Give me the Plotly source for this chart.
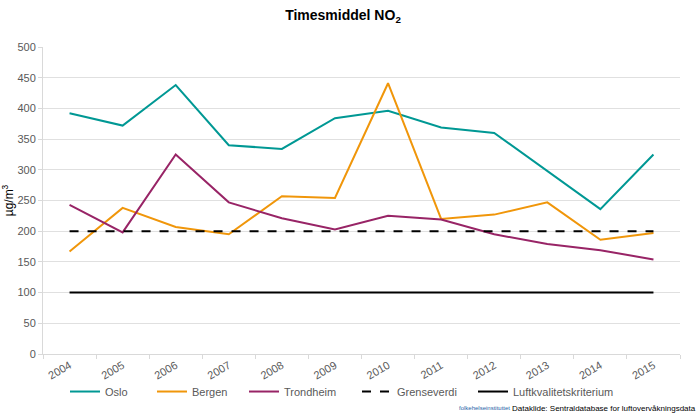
import plotly.graph_objects as go

years = ["2004", "2005", "2006", "2007", "2008", "2009", "2010", "2011", "2012", "2013", "2014", "2015"]
oslo = [392, 372, 438, 340, 334, 384, 396, 369, 360, 298, 236, 325]
bergen = [167, 238, 207, 195, 257, 254, 441, 220, 227, 247, 186, 197]
trondheim = [243, 198, 325, 247, 221, 203, 225, 219, 195, 179, 169, 154]
grenseverdi = [200] * 12
luftkvalitet = [100] * 12

series = [
    ("Oslo", oslo, dict(color="#009894", width=2), "legend"),
    ("Bergen", bergen, dict(color="#F0960A", width=2), "legend2"),
    ("Trondheim", trondheim, dict(color="#982466", width=2), "legend3"),
    ("Grenseverdi", grenseverdi, dict(color="black", width=2, dash="dash"), "legend4"),
    ("Luftkvalitetskriterium", luftkvalitet, dict(color="black", width=2), "legend5"),
]

fig = go.Figure()
for name, vals, line, leg in series:
    fig.add_trace(go.Scatter(x=years, y=vals, name=name, mode="lines", line=line, legend=leg))

L, R, T, B = 43, 20, 47, 66
PW = 700 - L - R
legend_px = {"legend": 65, "legend2": 152, "legend3": 244, "legend4": 357, "legend5": 473}
legends = {}
for leg, px in legend_px.items():
    legends[leg] = dict(orientation="h", x=(px - L) / PW, xanchor="left", y=-0.075, yanchor="top",
                        font=dict(size=11, color="#595959"), itemwidth=30, bgcolor="rgba(0,0,0,0)")

fig.update_layout(
    width=700, height=420,
    margin=dict(l=L, r=R, t=T, b=B, autoexpand=False),
    paper_bgcolor="white", plot_bgcolor="white",
    font=dict(family="Liberation Sans, Arial, sans-serif", size=11, color="#595959"),
    title=dict(text="<b>Timesmiddel NO<sub>2</sub></b>", x=0.49, xanchor="center", y=0.975, yanchor="top",
               font=dict(size=14, color="black")),
    showlegend=True,
    xaxis=dict(type="category", range=[-0.5, 11.5], tickson="boundaries", ticks="outside", ticklen=4,
               tickcolor="#d9d9d9", showline=True, linecolor="#d9d9d9", showgrid=False,
               tickangle=-30, tickfont=dict(size=11, color="#595959"), automargin=False),
    yaxis=dict(range=[0, 500], dtick=50, showgrid=True, gridcolor="#e0e0e0", gridwidth=1,
               ticks="outside", ticklen=4, tickcolor="#d9d9d9", showline=True, linecolor="#d9d9d9",
               zeroline=False, tickfont=dict(size=11, color="#595959"), automargin=False,
               title=dict(text="µg/m<sup>3</sup>", font=dict(size=12, color="black"), standoff=2)),
    **legends,
)

fig.add_annotation(text="Dataklide: Sentraldatabase for luftovervåkningsdata", xref="paper", yref="paper",
                   x=(698 - L) / PW, xanchor="right", y=(354 - 408) / (420 - T - B), yanchor="middle",
                   showarrow=False, font=dict(size=8, color="black"))
fig.add_annotation(text="folkehelseinstituttet", xref="paper", yref="paper",
                   x=(512 - L) / PW, xanchor="right", y=(354 - 408) / (420 - T - B), yanchor="middle",
                   showarrow=False, font=dict(size=6, color="#1f5fa8"))

fig.write_html("out.html", config={"displayModeBar": False},
               post_script="document.body.style.margin='0';")
